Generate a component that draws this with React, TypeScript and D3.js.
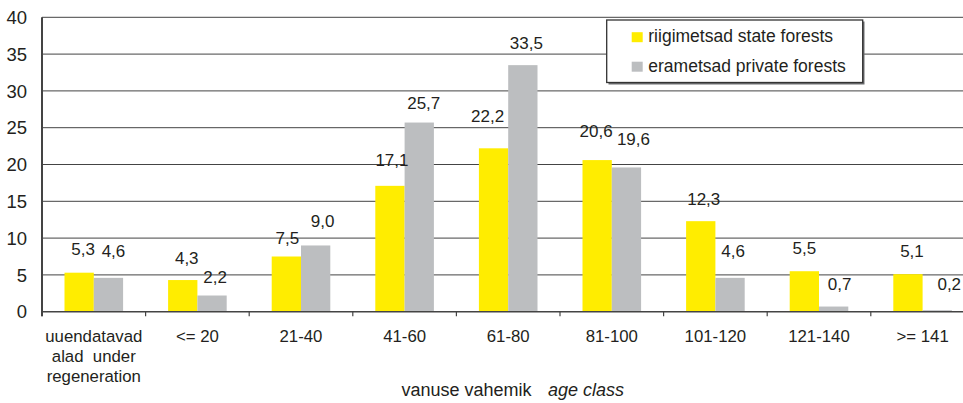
import React from "react";
import * as d3 from "d3";

const categories = ["uuendatavad alad under regeneration", "<= 20", "21-40", "41-60", "61-80", "81-100", "101-120", "121-140", ">= 141"];
const categoryLines = [["uuendatavad", "alad  under", "regeneration"], ["<= 20"], ["21-40"], ["41-60"], ["61-80"], ["81-100"], ["101-120"], ["121-140"], [">= 141"]];
const seriesNames = ["riigimetsad state forests", "erametsad private forests"];
const stateValues = [5.3, 4.3, 7.5, 17.1, 22.2, 20.6, 12.3, 5.5, 5.1];
const privateValues = [4.6, 2.2, 9.0, 25.7, 33.5, 19.6, 4.6, 0.7, 0.2];
const yTicks = [0, 5, 10, 15, 20, 25, 30, 35, 40];
// label nudges (dx, lift above bar) to mimic the original label placement
const stateLabelNudge = [[4, 17.5], [4, 16], [1, 13], [2, 20], [-6, 26], [-1, 23], [3, 16], [0, 17], [4, 17.5]];
const privateLabelNudge = [[5, 21], [3, 13], [7, 18], [4.5, 14], [3.5, 16], [7, 22], [3, 20.5], [6, 16.6], [12, 20]];

const COLORS = ["#FFED00", "#BCBEC0"];
const TEXT = "#231F20";
const FONT = "'Liberation Sans', Arial, sans-serif";

export default function App() {
  const W = 963, H = 403;
  const left = 42, right = 974.4, top = 17.3, bottom = 311.7;
  const x = d3.scaleBand<string>().domain(categories).range([left, right]).paddingInner(0).paddingOuter(0);
  const x1 = d3.scaleBand<string>().domain(seriesNames).range([0, x.bandwidth()]).paddingInner(0).paddingOuter(0.768);
  const y = d3.scaleLinear().domain([0, 40]).range([bottom, top]);
  const fmt = (v: number) => d3.format(".1f")(v).replace(".", ",");
  const seriesValues = [stateValues, privateValues];
  const nudges = [stateLabelNudge, privateLabelNudge];

  return (
    <svg width={W} height={H} style={{ position: "absolute", left: 0, top: 0, background: "#fff" }} fontFamily={FONT}>
      <rect x={0} y={0} width={W} height={H} fill="#fff" />
      {/* gridlines */}
      {yTicks.filter(t => t > 0).map(t => (
        <line key={t} x1={left} x2={W} y1={y(t)} y2={y(t)} stroke="#444" strokeWidth={1} />
      ))}
      {/* y tick labels */}
      {yTicks.map(t => (
        <text key={t} x={27} y={y(t)} dy="0.36em" textAnchor="end" fontSize={18.5} fill={TEXT}>{t}</text>
      ))}
      {/* bars */}
      {seriesNames.map((s, si) => (
        <g key={s}>
          {categories.map((c, ci) => {
            const v = seriesValues[si][ci];
            return (
              <rect key={c} x={(x(c) as number) + (x1(s) as number)} y={y(v)} width={x1.bandwidth()} height={y(0) - y(v)} fill={COLORS[si]} />
            );
          })}
        </g>
      ))}
      {/* value labels */}
      {seriesNames.map((s, si) => (
        <g key={s}>
          {categories.map((c, ci) => {
            const v = seriesValues[si][ci];
            const cx = (x(c) as number) + (x1(s) as number) + x1.bandwidth() / 2 + nudges[si][ci][0];
            return (
              <text key={c} x={cx} y={y(v) - nudges[si][ci][1]} textAnchor="middle" fontSize={17} fill={TEXT}>{fmt(v)}</text>
            );
          })}
        </g>
      ))}
      {/* axes */}
      <line x1={left} x2={W} y1={bottom} y2={bottom} stroke="#444" strokeWidth={1.5} />
      <line x1={left} x2={left} y1={top} y2={bottom + 4.5} stroke="#444" strokeWidth={2} />
      {categories.map(c => (
        <line key={c} x1={x(c) as number} x2={x(c) as number} y1={bottom} y2={bottom + 4.5} stroke="#444" strokeWidth={1.2} />
      ))}
      {/* x tick labels */}
      {categories.map((c, ci) => (
        <text key={c} x={(x(c) as number) + x.bandwidth() / 2} y={341.5} textAnchor="middle" fontSize={16.8} fill={TEXT} style={{ whiteSpace: "pre" }}>
          {categoryLines[ci].map((l, li) => (
            <tspan key={li} x={(x(c) as number) + x.bandwidth() / 2} dy={li === 0 ? 0 : 20}>{l}</tspan>
          ))}
        </text>
      ))}
      {/* axis title */}
      <text x={401.5} y={396} fontSize={18} fill={TEXT}>vanuse vahemik</text>
      <text x={548} y={396} fontSize={18} fill={TEXT} fontStyle="italic">age class</text>
      {/* legend */}
      <rect x={608.5} y={21.5} width={256} height={63} fill="#6d6e70" />
      <rect x={606.7} y={20} width={256} height={62.5} fill="#fff" stroke="#333" strokeWidth={1.3} />
      {seriesNames.map((s, si) => (
        <g key={s}>
          <rect x={631.7} y={32.2 + si * 29.5} width={11} height={10} fill={COLORS[si]} />
          <text x={648.3} y={42.2 + si * 29.5} fontSize={17.5} fill={TEXT}>{s}</text>
        </g>
      ))}
    </svg>
  );
}
